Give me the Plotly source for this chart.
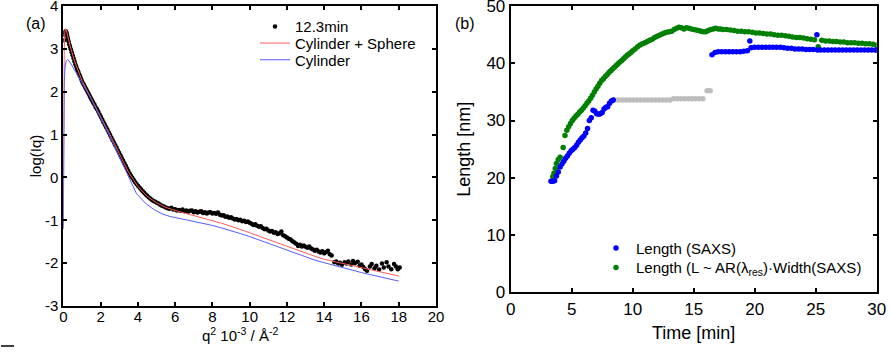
import plotly.graph_objects as go

FONT = "Liberation Sans, Arial, sans-serif"

# ---------------- Panel (a) data ----------------
q2_data = [0.04, 0.07, 0.10, 0.13, 0.16, 0.19, 0.22, 0.25, 0.28, 0.32, 0.36, 0.40, 0.45, 0.50, 0.55,
           0.60, 0.65, 0.70, 0.75, 0.80, 0.85, 0.90, 0.95, 1.00, 1.06, 1.12, 1.18, 1.24, 1.30, 1.36,
           1.42, 1.48, 1.54, 1.60, 1.67, 1.74, 1.81, 1.88, 1.95, 2.02, 2.09, 2.16, 2.23, 2.30, 2.37,
           2.44, 2.51, 2.58, 2.65, 2.72, 2.79, 2.86, 2.93, 3.00, 3.07, 3.14, 3.21, 3.28, 3.35, 3.42,
           3.49, 3.56, 3.63, 3.70, 3.78, 3.86, 3.94, 4.02, 4.10, 4.18, 4.26, 4.34, 4.42, 4.50, 4.58,
           4.66, 4.75, 4.84, 4.93, 5.02, 5.11, 5.20, 5.30, 5.40, 5.50, 5.60, 5.70, 5.80, 5.90, 6.00,
           6.10, 6.20, 6.30, 6.40, 6.50, 6.60, 6.70, 6.80, 6.90, 7.00, 7.10, 7.20, 7.30, 7.40, 7.50,
           7.60, 7.70, 7.80, 7.90, 8.00, 8.10, 8.20, 8.30, 8.40, 8.50, 8.60, 8.70, 8.80, 8.90, 9.00,
           9.10, 9.20, 9.30, 9.40, 9.50, 9.60, 9.70, 9.80, 9.90, 10.00, 10.10, 10.20, 10.30, 10.40, 10.50,
           10.60, 10.70, 10.80, 10.90, 11.00, 11.10, 11.20, 11.30, 11.40, 11.50, 11.60, 11.70, 11.80, 11.90, 12.00,
           12.10, 12.20, 12.30, 12.40, 12.50, 12.60, 12.70, 12.80, 12.90, 13.00, 13.10, 13.20, 13.30, 13.40, 13.50,
           13.60, 13.70, 13.80, 13.90, 14.00, 14.10, 14.20, 14.30, 14.40, 14.55, 14.65, 14.75, 14.85, 14.95, 15.10,
           15.20, 15.30, 15.45, 15.55, 15.65, 15.80, 15.90, 16.00, 16.10, 16.20, 16.30, 16.45, 16.55, 16.70, 16.80,
           16.95, 17.10, 17.20, 17.35, 17.45, 17.60, 17.75, 17.85, 17.95, 18.05]
logI_data = [3.20, 3.33, 3.39, 3.41, 3.39, 3.34, 3.28, 3.23, 3.18, 3.11, 3.05, 2.99, 2.92, 2.85, 2.78,
             2.71, 2.64, 2.58, 2.52, 2.47, 2.41, 2.36, 2.30, 2.25, 2.20, 2.15, 2.10, 2.05, 2.00, 1.95,
             1.90, 1.85, 1.80, 1.75, 1.70, 1.64, 1.59, 1.53, 1.47, 1.41, 1.35, 1.29, 1.23, 1.17, 1.11,
             1.05, 0.99, 0.93, 0.87, 0.81, 0.75, 0.69, 0.63, 0.57, 0.51, 0.45, 0.39, 0.33, 0.27, 0.21,
             0.15, 0.09, 0.04, -0.01, -0.06, -0.11, -0.16, -0.20, -0.24, -0.28, -0.32, -0.36, -0.40, -0.43, -0.46,
             -0.49, -0.52, -0.55, -0.57, -0.59, -0.61, -0.64, -0.66, -0.68, -0.70, -0.72, -0.73, -0.71, -0.75, -0.74,
             -0.77, -0.76, -0.78, -0.75, -0.79, -0.77, -0.80, -0.78, -0.77, -0.81, -0.79, -0.82, -0.80, -0.79, -0.83,
             -0.81, -0.84, -0.82, -0.81, -0.84, -0.83, -0.85, -0.82, -0.87, -0.89, -0.88, -0.92, -0.91, -0.94, -0.93,
             -0.96, -0.98, -0.97, -1.00, -0.99, -1.02, -1.01, -1.04, -1.03, -1.06, -1.08, -1.11, -1.09, -1.13, -1.15,
             -1.14, -1.18, -1.21, -1.20, -1.24, -1.26, -1.25, -1.29, -1.28, -1.32, -1.30, -1.26, -1.35, -1.37, -1.40,
             -1.43, -1.45, -1.49, -1.52, -1.55, -1.60, -1.57, -1.61, -1.59, -1.62, -1.64, -1.61, -1.66, -1.68, -1.71,
             -1.69, -1.73, -1.75, -1.72, -1.77, -1.74, -1.71, -1.79, -1.82, -1.98, -1.96, -2.01, -1.99, -2.04, -1.98,
             -2.01, -1.96, -2.03, -1.95, -2.00, -1.97, -2.06, -2.03, -2.09, -2.14, -2.18, -2.08, -2.02, -2.12, -2.06,
             -2.15, -2.01, -2.10, -1.98, -2.08, -2.14, -2.02, -2.08, -2.14, -2.10]

q2_cs = [0.00, 0.02, 0.05, 0.08, 0.12, 0.16, 0.22, 0.30, 0.40, 0.60, 0.80, 1.00, 1.50, 2.00, 2.50,
         3.00, 3.50, 4.00, 4.50, 5.00, 5.50, 6.00, 6.50, 7.00, 7.50, 8.00, 8.50, 9.00, 9.50, 10.00,
         10.50, 11.00, 11.50, 12.00, 12.50, 13.00, 13.50, 14.00, 14.50, 15.00, 15.50, 16.00, 16.50, 17.00, 17.50, 18.00]
logI_cs = [-1.20, 1.80, 3.00, 3.38, 3.47, 3.44, 3.32, 3.16, 3.01, 2.72, 2.48, 2.26, 1.84, 1.43, 1.00,
           0.56, 0.12, -0.21, -0.44, -0.59, -0.70, -0.77, -0.83, -0.88, -0.94, -1.00, -1.07, -1.14, -1.21, -1.29,
           -1.37, -1.45, -1.53, -1.61, -1.69, -1.77, -1.84, -1.91, -1.96, -2.01, -2.06, -2.11, -2.16, -2.21, -2.26, -2.30]

q2_c = [0.00, 0.02, 0.05, 0.10, 0.16, 0.23, 0.30, 0.40, 0.50, 0.70, 1.00, 1.50, 2.00, 2.50, 3.00,
        3.50, 3.93, 4.40, 4.83, 5.30, 5.72, 6.60, 7.50, 8.00, 8.50, 9.00, 9.50, 10.00, 10.50, 11.00,
        11.50, 12.00, 12.50, 13.00, 13.50, 14.00, 14.50, 15.00, 15.50, 16.00, 16.50, 17.00, 17.50, 18.00]
logI_c = [-1.20, 1.20, 2.20, 2.60, 2.72, 2.75, 2.73, 2.66, 2.58, 2.42, 2.21, 1.82, 1.40, 0.96, 0.48,
          0.00, -0.38, -0.60, -0.74, -0.85, -0.91, -0.99, -1.07, -1.12, -1.18, -1.24, -1.31, -1.38, -1.46, -1.53,
          -1.61, -1.70, -1.78, -1.86, -1.93, -1.99, -2.05, -2.11, -2.17, -2.22, -2.27, -2.32, -2.37, -2.42]

xa_ticks = [0, 2, 4, 6, 8, 10, 12, 14, 16, 18, 20]
ya_ticks = [-3, -2, -1, 0, 1, 2, 3, 4]
ya_ticktext = ["-3", "-2", "-1", "0", "1", "2", "3", "4"]

# ---------------- Panel (b) data ----------------
t_green = [3.45, 3.55, 3.65, 3.75, 3.90, 4.05, 4.30, 4.45, 4.60, 4.75, 4.90, 5.05, 5.20, 5.35, 5.50,
           5.65, 5.80, 5.95, 6.10, 6.25, 6.40, 6.55, 6.70, 6.85, 7.00, 7.15, 7.30, 7.45, 7.60, 7.75,
           7.90, 8.05, 8.20, 8.35, 8.50, 8.65, 8.80, 8.95, 9.10, 9.25, 9.40, 9.55, 9.70, 9.85, 10.00,
           10.20, 10.40, 10.60, 10.80, 11.00, 11.20, 11.40, 11.60, 11.80, 12.00, 12.20, 12.40, 12.60, 12.80, 13.00,
           13.20, 13.40, 13.60, 13.80, 14.00, 14.20, 14.40, 14.60, 14.80, 15.00, 15.20, 15.40, 15.60, 15.80, 16.00,
           16.20, 16.40, 16.60, 16.80, 17.00, 17.20, 17.40, 17.70, 18.00, 18.30, 18.60, 18.90, 19.20, 19.50, 19.80,
           20.10, 20.40, 20.70, 21.00, 21.30, 21.60, 21.90, 22.20, 22.50, 22.80, 23.10, 23.40, 23.70, 24.00, 24.30,
           24.60, 24.90, 25.20, 25.50, 25.80, 26.10, 26.40, 26.70, 27.00, 27.30, 27.60, 27.90, 28.20, 28.50, 28.80,
           29.10, 29.40, 29.70, 30.00]
L_green = [20.2, 20.8, 21.6, 22.5, 23.2, 23.6, 25.3, 27.4, 28.3, 28.9, 29.5, 30.0, 30.4, 30.8, 31.1,
           31.5, 31.8, 32.2, 32.6, 33.0, 33.4, 33.9, 34.4, 35.0, 35.5, 36.0, 36.5, 37.0, 37.3, 37.7,
           38.0, 38.4, 38.7, 39.0, 39.3, 39.6, 39.9, 40.2, 40.5, 40.8, 41.1, 41.4, 41.6, 41.9, 42.2,
           42.5, 42.9, 43.2, 43.4, 43.6, 43.8, 44.0, 44.2, 44.5, 44.7, 44.9, 45.1, 45.3, 45.4, 45.5,
           45.6, 45.9, 46.1, 46.3, 46.2, 46.0, 46.2, 46.1, 46.0, 45.9, 45.8, 45.7, 45.6, 45.5, 45.5,
           45.7, 45.9, 46.0, 46.1, 46.0, 46.0, 45.9, 45.9, 45.8, 45.7, 45.6, 45.6, 45.5, 45.5, 45.4,
           45.3, 45.3, 45.2, 45.1, 45.1, 45.0, 44.9, 44.9, 44.8, 44.7, 44.6, 44.5, 44.5, 44.4, 44.3,
           44.2, 44.1, 42.9, 44.0, 43.9, 43.9, 43.8, 43.8, 43.7, 43.7, 43.6, 43.6, 43.6, 43.5, 43.5,
           43.4, 43.4, 43.3, 43.2]

t_blue = [3.30, 3.45, 3.60, 3.75, 3.90, 4.05, 4.20, 4.35, 4.50, 4.65, 4.80, 4.95, 5.10, 5.25, 5.40,
          5.55, 5.70, 5.85, 6.00, 6.15, 6.30, 6.45, 6.60, 6.75, 6.90, 7.05, 7.20, 7.35, 7.50, 7.65,
          7.80, 7.95, 8.10, 8.25, 8.40,
          16.50, 16.75, 17.00, 17.30, 17.60, 17.90, 18.20, 18.50, 18.80, 19.10, 19.40, 19.60, 19.70, 20.00, 20.30,
          20.60, 20.90, 21.20, 21.50, 21.80, 22.10, 22.40, 22.70, 23.00, 23.30, 23.60, 23.90, 24.20, 24.50, 24.80,
          25.10, 25.15, 25.40, 25.70, 26.00, 26.30, 26.60, 26.90, 27.20, 27.50, 27.80, 28.10, 28.40, 28.70, 29.00,
          29.30, 29.60, 29.90, 30.00]
L_blue = [19.4, 19.4, 19.5, 20.3, 21.0, 21.9, 22.4, 22.9, 23.4, 23.8, 24.3, 24.7, 25.0, 25.3, 25.7,
          26.2, 26.6, 27.0, 27.3, 27.8, 28.6, 30.0, 30.5, 31.8, 31.6, 31.2, 31.1, 31.2, 31.4, 32.0,
          32.3, 32.4, 33.0, 33.4, 33.6,
          41.5, 41.9, 42.0, 42.0, 42.0, 42.0, 42.0, 42.0, 42.0, 42.1, 42.2, 43.9, 42.7, 42.8, 42.8,
          42.8, 42.8, 42.8, 42.8, 42.8, 42.8, 42.7, 42.6, 42.6, 42.5, 42.5, 42.5, 42.4, 42.4, 42.4,
          45.0, 42.3, 42.3, 42.3, 42.3, 42.3, 42.3, 42.3, 42.3, 42.3, 42.3, 42.3, 42.3, 42.3, 42.3,
          42.3, 42.3, 42.3, 42.3]

t_gray = [8.55, 8.85, 9.15, 9.45, 9.75, 10.05, 10.35, 10.65, 10.95, 11.25, 11.55, 11.85, 12.15, 12.45, 12.75,
          13.05, 13.35, 13.65, 13.95, 14.25, 14.55, 14.85, 15.15, 15.45, 15.75, 16.10, 16.35]
L_gray = [33.6, 33.6, 33.6, 33.6, 33.6, 33.6, 33.6, 33.6, 33.6, 33.6, 33.6, 33.6, 33.6, 33.6, 33.6,
          33.6, 33.8, 33.8, 33.8, 33.8, 33.8, 33.8, 33.8, 33.8, 33.8, 35.2, 35.2]

xb_ticks = [0, 5, 10, 15, 20, 25, 30]
yb_ticks = [0, 10, 20, 30, 40, 50]

fig = go.Figure()

fig.add_trace(go.Scatter(x=q2_data, y=logI_data, mode="markers", name="12.3min",
                         marker=dict(color="black", size=4.5), xaxis="x", yaxis="y", legend="legend"))
fig.add_trace(go.Scatter(x=q2_cs, y=logI_cs, mode="lines", name="Cylinder + Sphere",
                         line=dict(color="#ff5a5a", width=1), xaxis="x", yaxis="y", legend="legend2"))
fig.add_trace(go.Scatter(x=q2_c, y=logI_c, mode="lines", name="Cylinder",
                         line=dict(color="#5a5aff", width=1), xaxis="x", yaxis="y", legend="legend3"))

fig.add_trace(go.Scatter(x=t_gray, y=L_gray, mode="markers", showlegend=False,
                         marker=dict(color="#bdbdbd", size=5.5), xaxis="x2", yaxis="y2"))
fig.add_trace(go.Scatter(x=t_green, y=L_green, mode="markers",
                         name="Length (L ~ AR(λ<sub>res</sub>)·Width(SAXS)",
                         marker=dict(color="#008000", size=5.5), xaxis="x2", yaxis="y2", legend="legend5"))
fig.add_trace(go.Scatter(x=t_blue, y=L_blue, mode="markers", name="Length (SAXS)",
                         marker=dict(color="#0000ff", size=5.5), xaxis="x2", yaxis="y2", legend="legend4"))

W, H = 892, 354


def px(x):
    return x / W


def py(y):
    return 1 - y / H


axis_common = dict(showline=True, linewidth=2, linecolor="black", mirror="ticks",
                   ticks="inside", ticklen=4, tickwidth=2, tickcolor="black",
                   showgrid=False, zeroline=False, automargin=False, ticklabeloverflow="allow")

leg_common = dict(xanchor="left", yanchor="middle", bgcolor="rgba(0,0,0,0)", borderwidth=0)

fig.update_layout(
    width=W, height=H, margin=dict(l=0, r=0, t=0, b=0, autoexpand=False),
    paper_bgcolor="white", plot_bgcolor="white",
    font=dict(family=FONT, color="black"),
    xaxis=dict(domain=[px(63.3), px(436)], range=[0, 20], tickvals=xa_ticks, anchor="y",
               tickfont=dict(size=15), ticklabelstandoff=-4, **axis_common),
    yaxis=dict(domain=[py(306), py(6)], range=[-3, 4], tickvals=ya_ticks, ticktext=ya_ticktext, anchor="x",
               tickfont=dict(size=15), title=dict(text="log(Iq)", font=dict(size=15), standoff=0),
               **axis_common),
    xaxis2=dict(domain=[px(510.7), px(876.7)], range=[0, 30], tickvals=xb_ticks, anchor="y2",
                tickfont=dict(size=17), title=dict(text="Time [min]", font=dict(size=18), standoff=9),
                **axis_common),
    yaxis2=dict(domain=[py(292.3), py(6)], range=[0, 50], tickvals=yb_ticks, anchor="x2",
                tickfont=dict(size=17), title=dict(text="Length [nm]", font=dict(size=18), standoff=11),
                **axis_common),
    legend=dict(x=px(255), y=py(26.7), font=dict(size=15), **leg_common),
    legend2=dict(x=px(255), y=py(43.3), font=dict(size=15), **leg_common),
    legend3=dict(x=px(255), y=py(60), font=dict(size=15), **leg_common),
    legend4=dict(x=px(596), y=py(248.3), font=dict(size=15), **leg_common),
    legend5=dict(x=px(596), y=py(267.7), font=dict(size=15), **leg_common),
    annotations=[
        dict(text="(a)", x=px(24), y=py(13), xref="paper", yref="paper", showarrow=False,
             font=dict(size=16)),
        dict(text="(b)", x=px(465), y=py(13), xref="paper", yref="paper", showarrow=False,
             font=dict(size=16)),
        dict(text="q<sup>2</sup> 10<sup>-3</sup> / Å<sup>-2</sup>", x=px(240), y=py(334),
             xref="paper", yref="paper", xanchor="center", yanchor="middle", showarrow=False,
             font=dict(size=15)),
    ],
    shapes=[dict(type="line", xref="paper", yref="paper", x0=px(1), x1=px(14), y0=py(346), y1=py(346),
                 line=dict(color="black", width=1.5))],
)

fig.write_html("out.html")
